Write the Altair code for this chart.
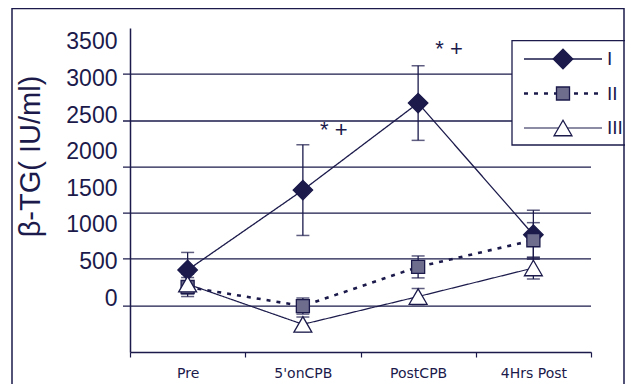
import altair as alt
import pandas as pd

NAVY = "#1b1a4b"

categories = ["Pre", "5'onCPB", "PostCPB", "4Hrs Post"]
series_names = ["I", "II", "III"]
values_I = [383, 1475, 2665, 865]
errors_I = [240, 620, 510, 335]
values_II = [150, -110, 425, 790]
errors_II = [130, 110, 150, 240]
values_III = [190, -360, 20, 410]
errors_III = [135, 100, 110, 150]
y_labels = [0, 500, 1000, 1500, 2000, 2500, 3000, 3500]
grid_values = [-110, 535, 1160, 1790, 2420, 3060]
note_categories = ["5'onCPB", "PostCPB"]
note_values = [2300, 3400]
note_texts = ["* +", "* +"]

rows = []
for name, vals, errs in zip(series_names, [values_I, values_II, values_III],
                            [errors_I, errors_II, errors_III]):
    for i, (c, v, e) in enumerate(zip(categories, vals, errs)):
        rows.append({"cat": c, "idx": i, "series": name, "value": v, "lo": v - e, "hi": v + e})
df = pd.DataFrame(rows)
grid_df = pd.DataFrame({"g": grid_values})
note_df = pd.DataFrame({"cat": note_categories, "value": note_values, "text": note_texts})
leg_df = pd.DataFrame({"series": series_names})
one_df = pd.DataFrame({"k": [0]})

y_scale = alt.Scale(domain=[-738, 3691], nice=False, zero=False)
y_axis = alt.Axis(values=y_labels, format="d", grid=False, ticks=False, domain=True,
                  domainColor=NAVY, domainWidth=1.5, labelFont="Liberation Sans",
                  labelFontSize=23, labelColor=NAVY, labelPadding=13, labelOverlap=False,
                  title="β-TG( IU/ml)", titleFont="Liberation Sans", titleFontSize=29,
                  titleFontWeight="normal", titleColor=NAVY, titleAngle=270,
                  titleX=-100, titleY=128, titleAlign="center", titleBaseline="middle")
x_axis = alt.Axis(title=None, labelAngle=0, tickBand="extent", ticks=True, tickSize=5,
                  tickColor=NAVY, tickWidth=1.2, domainColor=NAVY, domainWidth=1.5,
                  labelFont="DejaVu Sans", labelFontSize=14, labelColor=NAVY,
                  labelPadding=9, grid=False)
x_enc = alt.X("cat:N", sort=categories,
              scale=alt.Scale(type="band", domain=categories, paddingInner=0, paddingOuter=0),
              axis=x_axis)

dash_scale = alt.Scale(domain=series_names, range=[[1, 0], [4, 6], [1, 0]])
sw_scale = alt.Scale(type="ordinal", domain=series_names, range=[1.3, 2.6, 1.2])
shape_scale = alt.Scale(domain=series_names, range=["diamond", "square", "triangle-up"])
fill_scale = alt.Scale(domain=series_names, range=[NAVY, "#6e6d8e", "#ffffff"])
size_scale = alt.Scale(type="ordinal", domain=series_names, range=[380, 170, 320])

base = alt.Chart(df)

grid = alt.Chart(grid_df).mark_rule(color=NAVY, strokeWidth=1.3).encode(
    y=alt.Y("g:Q", scale=y_scale, axis=y_axis), x=alt.value(-7), x2=alt.value(461))

lines = base.mark_line(color=NAVY).encode(
    x=x_enc, y=alt.Y("value:Q", scale=y_scale, axis=y_axis),
    detail="series:N", order=alt.Order("idx:Q"),
    strokeDash=alt.StrokeDash("series:N", scale=dash_scale, legend=None),
    strokeWidth=alt.StrokeWidth("series:N", scale=sw_scale, legend=None))

err = base.mark_rule(color=NAVY, strokeWidth=1.3).encode(
    x=x_enc, y=alt.Y("lo:Q", scale=y_scale, axis=y_axis), y2="hi:Q")
cap_lo = base.mark_tick(color=NAVY, size=13, thickness=1.5, orient="horizontal").encode(
    x=x_enc, y=alt.Y("lo:Q", scale=y_scale, axis=y_axis))
cap_hi = base.mark_tick(color=NAVY, size=13, thickness=1.5, orient="horizontal").encode(
    x=x_enc, y=alt.Y("hi:Q", scale=y_scale, axis=y_axis))

points = base.mark_point(filled=True, opacity=1, stroke=NAVY, strokeWidth=1.3).encode(
    x=x_enc, y=alt.Y("value:Q", scale=y_scale, axis=y_axis),
    shape=alt.Shape("series:N", scale=shape_scale, legend=None),
    fill=alt.Fill("series:N", scale=fill_scale, legend=None),
    size=alt.Size("series:N", scale=size_scale, legend=None))

notes = alt.Chart(note_df).mark_text(font="Liberation Sans", fontSize=22, color=NAVY,
                                     dx=31, baseline="middle").encode(
    x=x_enc, y=alt.Y("value:Q", scale=y_scale, axis=y_axis), text="text:N")

main = alt.layer(grid, lines, err, cap_lo, cap_hi, points, notes)

leg_y = alt.Y("series:N", scale=alt.Scale(type="point", domain=series_names,
                                          range=[31, 100], padding=0), axis=None)
leg_box = alt.Chart(one_df).mark_rect(fill="white", stroke=NAVY, strokeWidth=1.3).encode(
    x=alt.value(382), x2=alt.value(500), y=alt.value(12.7), y2=alt.value(117))
leg_lines = alt.Chart(leg_df).mark_rule(color=NAVY).encode(
    y=leg_y, x=alt.value(394), x2=alt.value(472),
    strokeDash=alt.StrokeDash("series:N", scale=dash_scale, legend=None),
    strokeWidth=alt.StrokeWidth("series:N", scale=sw_scale, legend=None))
leg_points = alt.Chart(leg_df).mark_point(filled=True, opacity=1, stroke=NAVY,
                                          strokeWidth=1.3).encode(
    y=leg_y, x=alt.value(433),
    shape=alt.Shape("series:N", scale=shape_scale, legend=None),
    fill=alt.Fill("series:N", scale=fill_scale, legend=None),
    size=alt.Size("series:N", scale=size_scale, legend=None))
leg_text = alt.Chart(leg_df).mark_text(align="left", baseline="middle", fontSize=19,
                                       font="Liberation Sans", color=NAVY).encode(
    y=leg_y, x=alt.value(477), text="series:N")
legend = alt.layer(leg_box, leg_lines, leg_points, leg_text)

frame = alt.Chart(one_df).mark_rect(fill="transparent", stroke=NAVY, strokeWidth=1.5).encode(
    x=alt.value(-118), x2=alt.value(494), y=alt.value(-19.5), y2=alt.value(370))

chart = alt.layer(main, legend, frame).resolve_scale(y="independent").properties(
    width=461, height=324,
    autosize=alt.AutoSizeParams(type="none"),
    padding={"left": 122, "top": 20, "right": 34, "bottom": 32},
    background="white",
).configure_view(strokeWidth=0)

chart.save("out.html", embed_options={"renderer": "svg", "actions": False})
